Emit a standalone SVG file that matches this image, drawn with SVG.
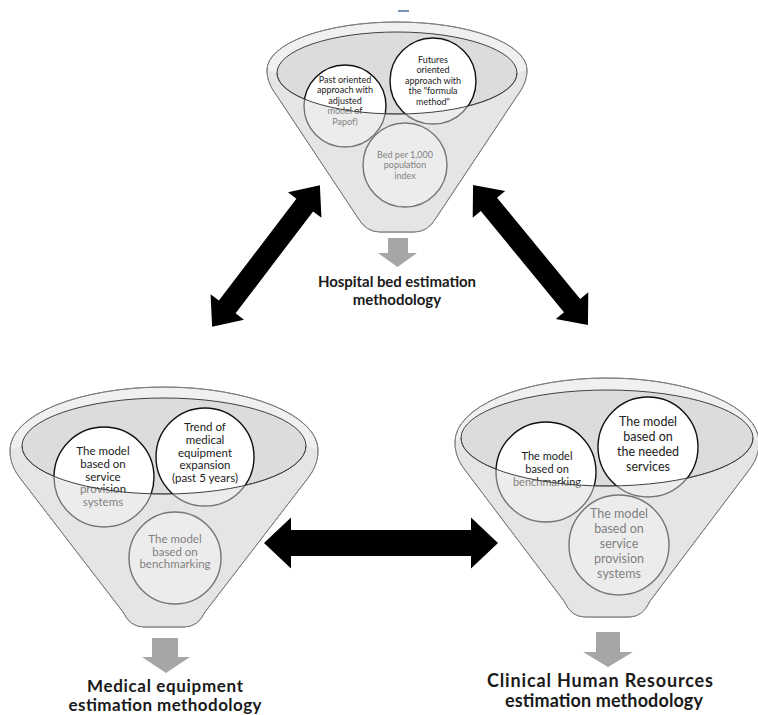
<svg xmlns="http://www.w3.org/2000/svg" width="758" height="715" viewBox="0 0 758 715">
<style>
.outer{fill:#f0f0f0;stroke:#7f7f7f;stroke-width:1}
.outline{fill:none;stroke:#7f7f7f;stroke-width:1}
.inner{fill:#dcdcdc;stroke:#404040;stroke-width:1}
.rim{fill:none;stroke:#404040;stroke-width:1}
.circ{fill:#ffffff;stroke:#111;stroke-width:1.4}
.over{fill:#dadada;fill-opacity:0.5;stroke:none}
.t{font-family:Lato,"Liberation Sans",sans-serif;fill:#222;text-anchor:middle}
.s9{font-size:9px}
.s11{font-size:11px}
.s115{font-size:11.5px}
.s125{font-size:12.5px}
.title{font-family:Lato,"Liberation Sans",sans-serif;font-weight:bold;fill:#1a1a1a;text-anchor:middle}
.down{fill:#a6a6a6}
.dbl{fill:#000}
</style>

<line x1="398" y1="11" x2="409" y2="11" stroke="#4a6fa5" stroke-width="1.5"/>

<g id="hospital-bed">
  <path class="outer" d="M267,70 A130,48 0 0 1 527,70 C527,80 523,88 517,96 L436,218 Q428,232 414,232 L380,232 Q366,232 358,218 L277,96 C271,88 267,80 267,70 Z"/>
  <ellipse class="inner" cx="397" cy="73" rx="120" ry="41"/>
  <circle class="circ" cx="345" cy="106" r="41"/>
  <circle class="circ" cx="433" cy="81" r="43"/>
  <circle class="circ" cx="405" cy="165" r="42"/>
  <text class="t s9"><tspan x="345" y="82.5">Past oriented</tspan><tspan x="345" y="93">approach with</tspan><tspan x="345" y="103.5">adjusted</tspan><tspan x="345" y="114">model of</tspan><tspan x="345" y="124.5">Papof)</tspan></text>
  <text class="t s9"><tspan x="433" y="62.5">Futures</tspan><tspan x="433" y="73">oriented</tspan><tspan x="433" y="83.5">approach with</tspan><tspan x="433" y="94">the "formula</tspan><tspan x="433" y="104.5">method"</tspan></text>
  <text class="t s9"><tspan x="405" y="157.5">Bed per 1,000</tspan><tspan x="405" y="168">population</tspan><tspan x="405" y="178.5">index</tspan></text>
  <path class="over" d="M277,73 A120,41 0 0 0 517,73 L527,70 C527,80 523,88 517,96 L436,218 Q428,232 414,232 L380,232 Q366,232 358,218 L277,96 C271,88 267,80 267,70 Z"/>
  <path class="outline" d="M267,70 A130,48 0 0 1 527,70 C527,80 523,88 517,96 L436,218 Q428,232 414,232 L380,232 Q366,232 358,218 L277,96 C271,88 267,80 267,70 Z"/>
  <path class="rim" d="M277,73 A120,41 0 0 0 517,73"/>
  <path class="down" d="M388,238 H408 V253 H417 L397.5,267 L378,253 H388 Z"/>
  <text class="title" font-size="15"><tspan x="397" y="287" textLength="158">Hospital bed estimation</tspan><tspan x="397" y="305">methodology</tspan></text>
</g>

<g id="medical-equipment">
  <path class="outer" d="M10,450 A154,63 0 0 1 318,450 C318,462 314,470 308,478 L205,612 Q198,627 184,627 L144,627 Q130,627 123,612 L20,478 C14,470 10,462 10,450 Z"/>
  <ellipse class="inner" cx="164" cy="446" rx="142" ry="48"/>
  <circle class="circ" cx="104" cy="477" r="50"/>
  <circle class="circ" cx="205" cy="457" r="49"/>
  <circle class="circ" cx="175" cy="558" r="46"/>
  <text class="t s115"><tspan x="103" y="455">The model</tspan><tspan x="103" y="468">based on</tspan><tspan x="103" y="480.5">service</tspan><tspan x="103" y="493">provision</tspan><tspan x="103" y="506">systems</tspan></text>
  <text class="t s115"><tspan x="205" y="431">Trend of</tspan><tspan x="205" y="444">medical</tspan><tspan x="205" y="456.5">equipment</tspan><tspan x="205" y="469">expansion</tspan><tspan x="205" y="481.5">(past 5 years)</tspan></text>
  <text class="t s115"><tspan x="175" y="543">The model</tspan><tspan x="175" y="555.5">based on</tspan><tspan x="175" y="568">benchmarking</tspan></text>
  <path class="over" d="M22,446 A142,48 0 0 0 306,446 L318,450 C318,462 314,470 308,478 L205,612 Q198,627 184,627 L144,627 Q130,627 123,612 L20,478 C14,470 10,462 10,450 Z"/>
  <path class="outline" d="M10,450 A154,63 0 0 1 318,450 C318,462 314,470 308,478 L205,612 Q198,627 184,627 L144,627 Q130,627 123,612 L20,478 C14,470 10,462 10,450 Z"/>
  <path class="rim" d="M22,446 A142,48 0 0 0 306,446"/>
  <path class="down" d="M152,638 H178 V657 H190 L166,673 L142,657 H152 Z"/>
  <text class="title" font-size="17"><tspan x="165" y="692" textLength="156">Medical equipment</tspan><tspan x="165" y="711" textLength="193">estimation methodology</tspan></text>
</g>

<g id="clinical-hr">
  <path class="outer" d="M455,442 A152,64 0 0 1 759,442 C759,454 755,462 749,470 L650,601 Q643,617 629,617 L585,617 Q571,617 564,601 L465,470 C459,462 455,454 455,442 Z"/>
  <ellipse class="inner" cx="607" cy="438" rx="146" ry="48"/>
  <circle class="circ" cx="546" cy="472" r="50"/>
  <circle class="circ" cx="648" cy="447" r="50"/>
  <circle class="circ" cx="619" cy="545" r="50"/>
  <text class="t s11"><tspan x="547" y="460">The model</tspan><tspan x="547" y="473">based on</tspan><tspan x="547" y="486">benchmarking</tspan></text>
  <text class="t s125"><tspan x="648" y="426">The model</tspan><tspan x="648" y="441">based on</tspan><tspan x="648" y="456">the needed</tspan><tspan x="648" y="470.5">services</tspan></text>
  <text class="t s125"><tspan x="619" y="518">The model</tspan><tspan x="619" y="533">based on</tspan><tspan x="619" y="548">service</tspan><tspan x="619" y="563">provision</tspan><tspan x="619" y="578">systems</tspan></text>
  <path class="over" d="M461,438 A146,48 0 0 0 753,438 L759,442 C759,454 755,462 749,470 L650,601 Q643,617 629,617 L585,617 Q571,617 564,601 L465,470 C459,462 455,454 455,442 Z"/>
  <path class="outline" d="M455,442 A152,64 0 0 1 759,442 C759,454 755,462 749,470 L650,601 Q643,617 629,617 L585,617 Q571,617 564,601 L465,470 C459,462 455,454 455,442 Z"/>
  <path class="rim" d="M461,438 A146,48 0 0 0 753,438"/>
  <path class="down" d="M596,632 H620 V652 H633 L608,667 L583,652 H596 Z"/>
  <text class="title" font-size="18"><tspan x="600" y="687" textLength="226">Clinical Human Resources</tspan><tspan x="604" y="707" textLength="198">estimation methodology</tspan></text>
</g>

<g id="connectors">
  <path class="dbl" d="M264,543 L291,517.5 L291,530 L471,530 L471,517.5 L498,543 L471,568.5 L471,556 L291,556 L291,568.5 Z"/>
  <path class="dbl" transform="translate(266,256) rotate(-52.75)" d="M-89,0 L-64,-21 L-64,-10.5 L64,-10.5 L64,-21 L89,0 L64,21 L64,10.5 L-64,10.5 L-64,21 Z"/>
  <path class="dbl" transform="translate(530.5,255) rotate(50.6)" d="M-90.5,0 L-65.5,-21 L-65.5,-10.5 L65.5,-10.5 L65.5,-21 L90.5,0 L65.5,21 L65.5,10.5 L-65.5,10.5 L-65.5,21 Z"/>
</g>
</svg>
